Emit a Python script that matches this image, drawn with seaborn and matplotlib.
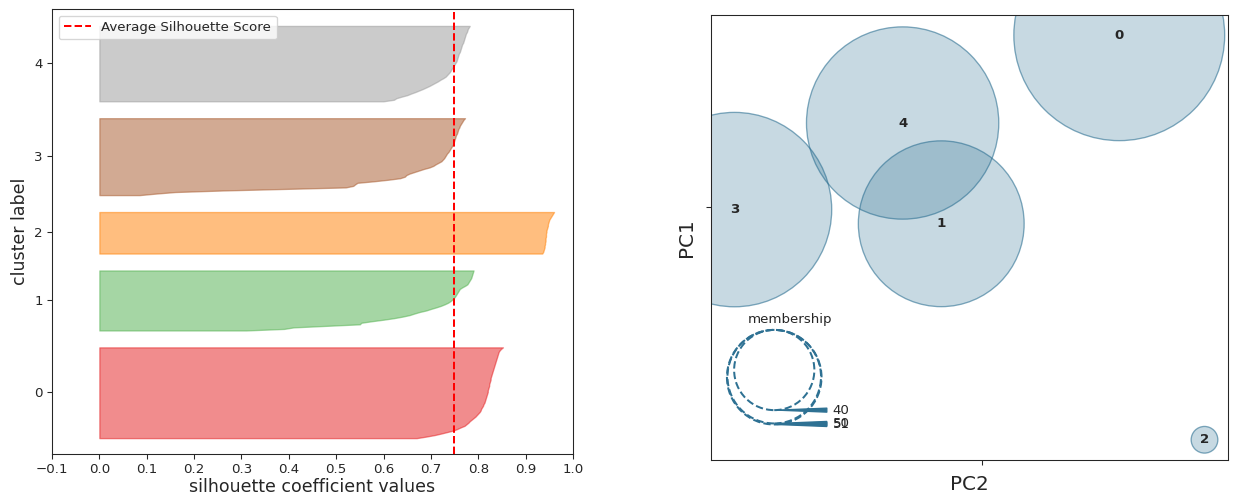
import numpy as np
import matplotlib
matplotlib.use("Agg")
import matplotlib.pyplot as plt
import seaborn as sns
from matplotlib.patches import Circle
from mpl_toolkits.axes_grid1.inset_locator import inset_axes

# ---------------- data ----------------
cluster_labels = [0, 1, 2, 3, 4]

sil_cluster_0 = [0.670, 0.690, 0.708, 0.722, 0.735, 0.748, 0.756, 0.763, 0.771, 0.775,
                 0.779, 0.782, 0.786, 0.790, 0.794, 0.797, 0.800, 0.803, 0.805, 0.806,
                 0.808, 0.810, 0.811, 0.813, 0.814, 0.815, 0.816, 0.817, 0.818, 0.819,
                 0.820, 0.820, 0.821, 0.822, 0.823, 0.823, 0.824, 0.825, 0.826, 0.826,
                 0.827, 0.828, 0.829, 0.830, 0.831, 0.832, 0.833, 0.834, 0.835, 0.836,
                 0.837, 0.838, 0.839, 0.840, 0.841, 0.842, 0.843, 0.845, 0.848, 0.852]

sil_cluster_1 = [0.310, 0.390, 0.410, 0.480, 0.550, 0.553, 0.575, 0.600, 0.622, 0.640,
                 0.655, 0.665, 0.676, 0.690, 0.700, 0.711, 0.721, 0.729, 0.736, 0.741,
                 0.745, 0.748, 0.751, 0.753, 0.755, 0.757, 0.759, 0.761, 0.766, 0.772,
                 0.777, 0.779, 0.781, 0.783, 0.785, 0.786, 0.787, 0.788, 0.789, 0.790]

sil_cluster_2 = [0.935, 0.937, 0.938, 0.939, 0.940, 0.940, 0.941, 0.941, 0.942, 0.942,
                 0.942, 0.943, 0.943, 0.943, 0.944, 0.944, 0.945, 0.946, 0.947, 0.947,
                 0.948, 0.949, 0.950, 0.952, 0.954, 0.956, 0.958, 0.960]

sil_cluster_3 = [0.085, 0.120, 0.160, 0.260, 0.390, 0.520, 0.536, 0.540, 0.545, 0.580,
                 0.610, 0.635, 0.645, 0.648, 0.655, 0.665, 0.675, 0.685, 0.697, 0.705,
                 0.710, 0.716, 0.722, 0.725, 0.728, 0.730, 0.732, 0.734, 0.737, 0.739,
                 0.741, 0.743, 0.745, 0.747, 0.748, 0.749, 0.750, 0.751, 0.752, 0.753,
                 0.755, 0.756, 0.757, 0.758, 0.760, 0.761, 0.763, 0.765, 0.767, 0.769,
                 0.772]

sil_cluster_4 = [0.600, 0.622, 0.627, 0.638, 0.650, 0.658, 0.667, 0.675, 0.683, 0.690,
                 0.697, 0.703, 0.709, 0.715, 0.720, 0.726, 0.731, 0.734, 0.737, 0.740,
                 0.742, 0.744, 0.746, 0.748, 0.750, 0.752, 0.754, 0.755, 0.756, 0.757,
                 0.758, 0.759, 0.761, 0.762, 0.763, 0.764, 0.765, 0.766, 0.768, 0.769,
                 0.770, 0.771, 0.772, 0.773, 0.774, 0.776, 0.777, 0.778, 0.780, 0.782]

avg_silhouette = 0.748
sil_xticks = [-0.1, 0.0, 0.1, 0.2, 0.3, 0.4, 0.5, 0.6, 0.7, 0.8, 0.9, 1.0]

# intercluster distance map (embedded cluster centers)
center_labels = ["0", "1", "2", "3", "4"]
center_pc2 = [2.92, -0.86, 4.73, -5.25, -1.68]
center_pc1 = [4.24, -0.42, -5.76, -0.07, 2.07]
membership = [60, 40, 28, 51, 50]

# ---------------- style ----------------
sns.set_style("ticks")
plt.rcParams["font.family"] = ["DejaVu Sans"]

DPI = 96
W, H = 1235, 498
fig = plt.figure(figsize=(W / DPI, H / DPI), dpi=DPI)
ax1 = fig.add_axes([52 / W, 44.5 / H, 521 / W, 444.5 / H])
ax2 = fig.add_axes([711 / W, 38 / H, 517 / W, 445 / H])

# ---------------- silhouette plot ----------------
palette = sns.color_palette("Set1", 9)[::2]
sil_values = [sil_cluster_0, sil_cluster_1, sil_cluster_2, sil_cluster_3, sil_cluster_4]
gap = 10
y_lower = gap
ytick_pos = []
for lab, vals, col in zip(cluster_labels, sil_values, palette):
    vals = np.sort(np.asarray(vals))
    y_upper = y_lower + len(vals)
    ax1.fill_betweenx(np.arange(y_lower, y_upper), 0, vals,
                      facecolor=col, edgecolor=col, alpha=0.5)
    ytick_pos.append(y_lower + 0.5 * len(vals))
    y_lower = y_upper + gap

ax1.axvline(avg_silhouette, color="red", ls="--", lw=1.5, label="Average Silhouette Score")
ax1.set_xlim(-0.1, 1.0)
ax1.set_ylim(0, y_lower)
ax1.set_xticks(sil_xticks)
ax1.set_xticklabels([f"{t:.1f}".replace("-", "\u2212") for t in sil_xticks])
ax1.set_yticks(ytick_pos)
ax1.set_yticklabels([str(c) for c in cluster_labels])
ax1.tick_params(labelsize=10, colors="0.15")
ax1.set_xlabel("silhouette coefficient values", fontsize=13, labelpad=2)
ax1.set_ylabel("cluster label", fontsize=13, labelpad=4)
ax1.legend(loc="upper left", fontsize=10)

# ---------------- intercluster distance map ----------------
scores = np.asarray(membership, dtype=float)
mi, ma = 400.0, 25000.0
areas = mi + (ma - mi) * ((scores - scores.min()) / (scores.max() - scores.min())) ** 0.5
size_map = {m: a for m, a in zip(membership, areas)}

sns.scatterplot(x=center_pc2, y=center_pc1, size=membership, sizes=size_map,
                color="#2e719344", edgecolor="#2e719399", linewidth=1,
                legend=False, ax=ax2)
for lab, x, y in zip(center_labels, center_pc2, center_pc1):
    ax2.text(x, y, lab, va="center", ha="center", fontweight="bold", fontsize=10)

ax2.set_xticks([0])
ax2.set_yticks([0])
ax2.set_xticklabels([])
ax2.set_yticklabels([])
ax2.set_xlabel("PC2", fontsize=15)
ax2.set_ylabel("PC1", fontsize=15)

# size legend
lax = inset_axes(ax2, width=1.5, height=1.5, loc="lower left")
lax.set_frame_on(False)
lax.set_facecolor("none")
lax.grid(False)
lax.set_xlim(-1.4, 1.4)
lax.set_ylim(-1.4, 1.4)
lax.set_xticks([])
lax.set_yticks([])

radii = np.sqrt(areas / np.pi)
scaled = np.interp(radii, (radii.min(), radii.max()), (0.1, 1))
for p in (25, 50, 75):
    val = np.percentile(scores, p, method="nearest")
    idx = int(np.where(scores == val)[0][0])
    c = Circle((-0.30, 1 - scaled[idx]), scaled[idx], facecolor="none",
               edgecolor="#2e7193", linewidth=1.5, linestyle="--")
    lax.add_patch(c)
    lax.annotate(str(membership[idx]), (-0.30, 1 - 2 * scaled[idx]),
                 xytext=(1, 1 - 2 * scaled[idx]),
                 arrowprops=dict(arrowstyle="wedge", color="#2e7193"),
                 va="center", ha="center", fontsize=10)
lax.text(s="membership", x=0, y=1.2, va="center", ha="center", fontsize=10)

fig.savefig("out.png", dpi=DPI)
